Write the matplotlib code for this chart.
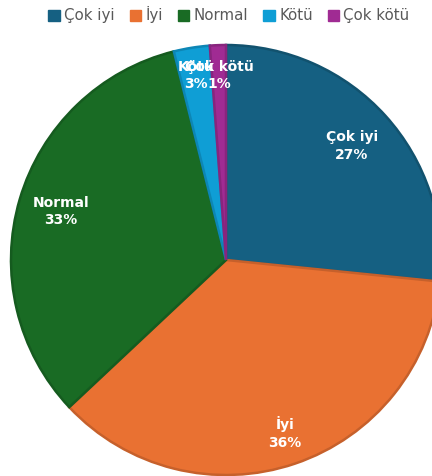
import matplotlib.pyplot as plt
import numpy as np
from matplotlib.colors import to_rgb

categories = ["Çok iyi", "İyi", "Normal", "Kötü", "Çok kötü"]
values = [26.6, 36.4, 33.1, 2.7, 1.2]
colors = ["#156082", "#E97132", "#196B24", "#0F9ED5", "#A02B93"]
label_dist = [0.79, 0.85, 0.80, 0.87, 0.86]


def darker(c, f=0.85):
    r, g, b = to_rgb(c)
    return (r * f, g * f, b * f)


fig = plt.figure(figsize=(4.32, 4.76), dpi=100)
# pie spills over the right edge like the reference
ax = fig.add_axes([11 / 432, (476 - 475) / 476, 430 / 432, 430 / 476])

wedges, _ = ax.pie(
    values,
    colors=colors,
    startangle=90,
    counterclock=False,
    radius=1,
    wedgeprops=dict(linewidth=1.8),
)
ax.set_xlim(-1, 1)
ax.set_ylim(-1, 1)
ax.set_aspect("equal")
ax.axis("off")
for w, c in zip(wedges, colors):
    w.set_edgecolor(darker(c))
    w.set_clip_on(False)

total = sum(values)
for w, name, v, d in zip(wedges, categories, values, label_dist):
    mid = np.deg2rad((w.theta1 + w.theta2) / 2)
    x, y = d * np.cos(mid), d * np.sin(mid)
    ax.text(
        x, y, f"{name}\n{round(v / total * 100):.0f}%",
        ha="center", va="center", color="white",
        fontsize=10, fontweight="bold", linespacing=1.3,
    )

handles = [plt.Rectangle((0, 0), 1, 1, color=c) for c in colors]
fig.legend(
    handles, categories, loc="upper center", bbox_to_anchor=(0.53, 1.015),
    ncol=5, frameon=False, fontsize=10.8, handlelength=0.75, handleheight=0.75,
    handletextpad=0.3, columnspacing=1.0, labelcolor="#595959",
)

fig.savefig("out.png", dpi=100)
